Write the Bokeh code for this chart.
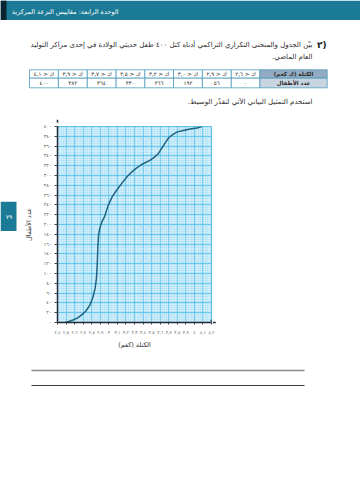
import numpy as np
from bokeh.plotting import figure
from bokeh.layouts import column, row
from bokeh.models import Range1d, FixedTicker, Arrow, VeeHead
from bokeh.core.properties import value
from bokeh.embed import file_html
from bokeh.resources import INLINE

# ---------------- data ----------------
mass_kg = [2.49, 2.53, 2.58, 2.63, 2.68, 2.73, 2.78, 2.815, 2.84, 2.855, 2.863, 2.868,
           2.873, 2.88, 2.895, 2.92, 2.95, 2.99, 3.04, 3.10, 3.16, 3.22, 3.28, 3.33,
           3.40, 3.48, 3.53, 3.58, 3.62, 3.66, 3.70, 3.75, 3.80, 3.87, 3.95, 4.03, 4.09]
cum_children = [0, 2, 5, 9, 15, 23, 36, 52, 70, 90, 112, 135,
                158, 178, 193, 206, 216, 238, 257, 272, 286, 299, 309, 316,
                324, 331, 337, 345, 356, 367, 377, 384, 389, 392, 395, 397, 400]

x_ticks = [2.4, 2.5, 2.6, 2.7, 2.8, 2.9, 3.0, 3.1, 3.2, 3.3, 3.4, 3.5, 3.6, 3.7, 3.8, 3.9, 4.0, 4.1, 4.2]
x_tick_labels = ["٢,٤", "٢,٥", "٢,٦", "٢,٧", "٢,٨", "٢,٩", "٣", "٣,١", "٣,٢", "٣,٣",
                 "٣,٤", "٣,٥", "٣,٦", "٣,٧", "٣,٨", "٣,٩", "٤", "٤,١", "٤,٢"]
y_ticks = [0, 20, 40, 60, 80, 100, 120, 140, 160, 180, 200, 220, 240, 260, 280, 300, 320, 340, 360, 380, 400]
y_tick_labels = ["٠", "٢٠", "٤٠", "٦٠", "٨٠", "١٠٠", "١٢٠", "١٤٠", "١٦٠", "١٨٠", "٢٠٠",
                 "٢٢٠", "٢٤٠", "٢٦٠", "٢٨٠", "٣٠٠", "٣٢٠", "٣٤٠", "٣٦٠", "٣٨٠", "٤٠٠"]

table_heads = ["ك < ٢,٦", "ك < ٢,٩", "ك < ٣,٠", "ك < ٣,٢", "ك < ٣,٥", "ك < ٣,٧", "ك < ٣,٩", "ك < ٤,١"]
table_counts = ["٠", "٥٦", "١٩٢", "٢٦٦", "٣٣٠", "٣٦٤", "٣٨٢", "٤٠٠"]
row_titles = ["الكتلة (ك كغم)", "عدد الأطفال"]

header_text = "الوحدة الرابعة: مقاييس النزعة المركزية"
q_num = "٢)"
q_line1 = "بيّن الجدول والمنحنى التكراري التراكمي أدناه كتل ٤٠٠ طفل حديثي الولادة في إحدى مراكز التوليد"
q_line2 = "العام الماضي.\u200f"
instr = "استخدم التمثيل البياني الآتي لتقدّر الوسيط.\u200f"
page_no = "٧٩"
x_title = "الكتلة (كغم)"
y_title = "عدد الأطفال"

FONT = "DejaVu Sans"
TEAL = "#1b7a96"
INK = "#2b2b2b"


def blank(w, h, xr, yr):
    f = figure(width=w, height=h, x_range=Range1d(*xr), y_range=Range1d(*yr),
               output_backend="svg", toolbar_location=None, min_border=0,
               x_axis_type=None, y_axis_type=None)
    f.grid.visible = False
    f.outline_line_color = None
    f.background_fill_color = "white"
    f.border_fill_color = "white"
    return f


def txt(f, x, y, s, size, color=INK, align="right", style="normal"):
    f.text(x=[x], y=[y], text=[s], text_font=value(FONT), text_font_size=size,
           text_color=color, text_align=align, text_baseline="middle", text_font_style=style)


# ---------------- top block (page pixel coordinates) ----------------
top = blank(360, 112, (0, 360), (112, 0))
top.quad(left=[0], right=[360], top=[0], bottom=[19.5], fill_color=TEAL, line_color=None)
top.quad(left=[0], right=[6], top=[0], bottom=[19.5], fill_color="#0c2330", line_color=None)
txt(top, 118, 11, header_text, "6.5px", color="white")

txt(top, 326, 44, q_num, "9px", color="#222222", style="bold")
txt(top, 312, 44, q_line1, "7px")
txt(top, 312, 56, q_line2, "7px")

# table
col_w = 28.8
x0 = 29.0
hx0, hx1 = 259.4, 326.7
r0, r1, r2 = 69.3, 77.7, 87.3
n = len(table_heads)
lefts = [x0 + (n - 1 - k) * col_w for k in range(n)]
rights = [l + col_w for l in lefts]
mids = [l + col_w / 2 for l in lefts]
top.quad(left=lefts, right=rights, top=[r0] * n, bottom=[r1] * n,
         fill_color="white", line_color="#4f9cbc", line_width=0.8)
top.quad(left=lefts, right=rights, top=[r1] * n, bottom=[r2] * n,
         fill_color="white", line_color="#4f9cbc", line_width=0.8)
top.quad(left=[hx0, hx0], right=[hx1, hx1], top=[r0, r1], bottom=[r1, r2],
         fill_color=["#93abc2", "#c8d4df"], line_color="#4f9cbc", line_width=0.8)
top.text(x=mids, y=[(r0 + r1) / 2] * n, text=table_heads,
         text_font=value(FONT), text_font_size="5.5px", text_color=INK,
         text_align="center", text_baseline="middle")
top.text(x=mids, y=[(r1 + r2) / 2] * n, text=table_counts,
         text_font=value(FONT), text_font_size="5.5px", text_color=INK,
         text_align="center", text_baseline="middle")
top.text(x=[(hx0 + hx1) / 2] * 2, y=[(r0 + r1) / 2, (r1 + r2) / 2], text=row_titles,
         text_font=value(FONT), text_font_size="5.5px", text_color=INK,
         text_align="center", text_baseline="middle", text_font_style="bold")

txt(top, 312, 101, instr, "7px")

# ---------------- left tab ----------------
tab = blank(18, 240, (0, 18), (352, 112))
tab.quad(left=[0], right=[16], top=[204], bottom=[240], fill_color=TEAL, line_color=None)
txt(tab, 8.5, 222, page_no, "6px", color="white", align="center")

# ---------------- chart ----------------
p = figure(width=342, height=240, x_range=Range1d(2.4, 4.2), y_range=Range1d(0, 400),
           output_backend="svg", toolbar_location=None,
           min_border_left=39, min_border_right=149, min_border_top=14, min_border_bottom=30)
p.background_fill_color = "#afe0f6"
p.border_fill_color = "white"
p.outline_line_color = "#5ec3ea"

x_minor = list(np.round(np.arange(2.4, 4.2001, 0.02), 2))
y_minor = list(np.arange(0, 401, 4))
xt = FixedTicker(ticks=x_ticks, minor_ticks=x_minor)
yt = FixedTicker(ticks=y_ticks, minor_ticks=y_minor)
p.xaxis.ticker = xt
p.yaxis.ticker = yt
p.xgrid.ticker = xt
p.ygrid.ticker = yt
p.xaxis.major_label_overrides = dict(zip(x_ticks, x_tick_labels))
p.yaxis.major_label_overrides = dict(zip(y_ticks, y_tick_labels))

for g in (p.xgrid, p.ygrid):
    g.grid_line_color = "#5ec3ea"
    g.grid_line_width = 0.9
    g.minor_grid_line_color = "white"
    g.minor_grid_line_alpha = 0.85
    g.minor_grid_line_dash = "1 1"
    g.minor_grid_line_width = 0.6

for ax in (p.xaxis, p.yaxis):
    ax.axis_line_color = "#1d2a3a"
    ax.axis_line_width = 1.5
    ax.major_tick_line_color = "#444444"
    ax.major_tick_in = 0
    ax.minor_tick_line_color = None
    ax.major_label_text_font = FONT
    ax.major_label_text_color = "#555555"
    ax.axis_label_text_font = FONT
    ax.axis_label_text_font_style = "normal"
    ax.axis_label_text_color = "#333333"
    ax.axis_label_text_font_size = "6.5px"

p.xaxis.major_label_text_font_size = "4.3px"
p.yaxis.major_label_text_font_size = "4.8px"
p.xaxis.major_tick_out = 2
p.yaxis.major_tick_out = 3
p.xaxis.major_label_standoff = 3
p.yaxis.major_label_standoff = 2
p.xaxis.axis_label = x_title
p.xaxis.axis_label_standoff = 3
p.yaxis.axis_label = y_title
p.yaxis.axis_label_standoff = 8

p.line(mass_kg, cum_children, line_color="#1e6380", line_width=1.5, line_join="round")

p.add_layout(Arrow(end=VeeHead(size=5, line_color="#1d2a3a", line_width=1.2, fill_color="#1d2a3a"),
                   x_start=2.4, y_start=396, x_end=2.4, y_end=414,
                   line_color="#1d2a3a", line_width=1.5))
p.add_layout(Arrow(end=VeeHead(size=5, line_color="#1d2a3a", line_width=1.2, fill_color="#1d2a3a"),
                   x_start=4.18, y_start=0, x_end=4.25, y_end=0,
                   line_color="#1d2a3a", line_width=1.5))

# ---------------- bottom answer lines ----------------
bot = blank(360, 128, (0, 360), (480, 352))
bot.segment(x0=[31], y0=[370], x1=[304], y1=[370], line_color="#8c8c8c", line_width=1.6)
bot.segment(x0=[31], y0=[385], x1=[304], y1=[385], line_color="#3c3c3c", line_width=1.2)

layout = column(top, row(tab, p), bot)
open("out.html", "w").write(file_html(layout, INLINE))
